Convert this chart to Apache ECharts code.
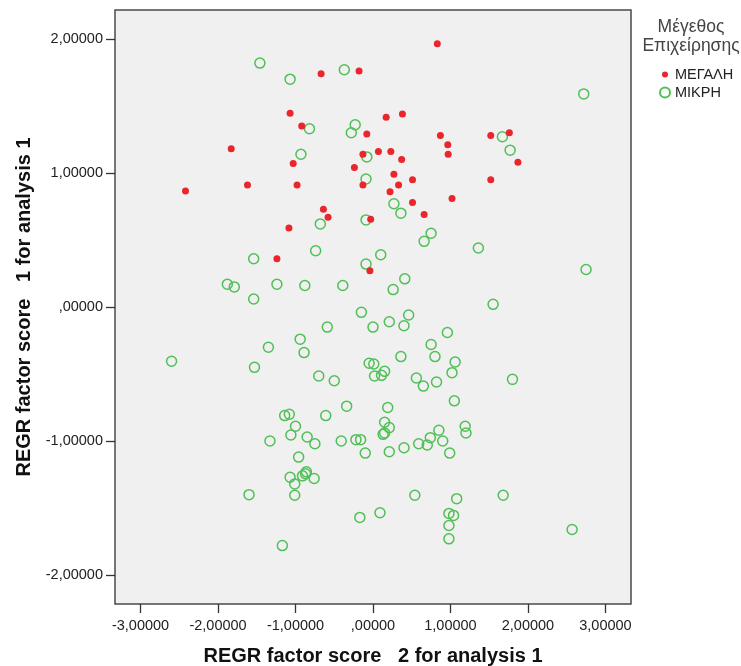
<!DOCTYPE html>
<html><head><meta charset="utf-8">
<script src="https://cdn.jsdelivr.net/npm/echarts@6/dist/echarts.min.js"></script>
<style>html,body{margin:0;padding:0;background:#fff}#c{width:741px;height:666px}</style>
</head><body><div id="c"></div>
<script>
var seriesNames = ['ΜΕΓΑΛΗ', 'ΜΙΚΡΗ'];
var legendTitle = 'Μέγεθος\nΕπιχείρησης';
var xAxisTitle = 'REGR factor score   2 for analysis 1';
var yAxisTitle = 'REGR factor score   1 for analysis 1';
var xTickValues = [-3, -2, -1, 0, 1, 2, 3];
var xTickLabels = ['-3,00000', '-2,00000', '-1,00000', ',00000', '1,00000', '2,00000', '3,00000'];
var yTickValues = [-2, -1, 0, 1, 2];
var yTickLabels = ['-2,00000', '-1,00000', ',00000', '1,00000', '2,00000'];

var megali = [
  [0.83,1.965],[-0.18,1.76],[-0.67,1.74],[-1.07,1.445],[0.17,1.415],[0.38,1.44],
  [-0.92,1.35],[-0.08,1.29],[0.87,1.28],[1.52,1.28],[1.76,1.30],[0.965,1.21],
  [0.97,1.14],[1.87,1.08],[-1.83,1.18],[0.07,1.16],[0.23,1.16],[-0.13,1.14],
  [0.37,1.10],[-1.03,1.07],[-0.24,1.04],[0.27,0.99],[0.51,0.95],[1.52,0.95],
  [0.33,0.91],[-1.62,0.91],[-0.98,0.91],[-0.13,0.91],[-2.42,0.866],[0.22,0.86],
  [1.02,0.81],[0.51,0.78],[0.66,0.69],[-0.64,0.73],[-0.58,0.67],[-0.03,0.655],
  [-1.085,0.59],[-1.24,0.36],[-0.04,0.27]
];
var mikri = [
  [-1.46,1.82],[-0.37,1.77],[-1.07,1.70],[-0.82,1.33],[-0.23,1.36],[-0.28,1.30],
  [-0.93,1.14],[-0.08,1.12],[-0.09,0.955],[2.72,1.59],[1.67,1.27],[1.77,1.17],
  [0.27,0.77],[0.36,0.70],[-0.68,0.62],[-0.09,0.65],[-0.74,0.42],[-1.54,0.36],
  [-0.09,0.32],[0.10,0.39],[-1.88,0.17],[-1.79,0.15],[-1.24,0.17],[-0.88,0.16],
  [-0.39,0.16],[-1.54,0.06],[-0.15,-0.04],[-0.59,-0.15],[0.00,-0.15],[-0.94,-0.24],
  [-1.35,-0.30],[-0.89,-0.34],[-2.60,-0.405],[-1.53,-0.45],[-0.05,-0.42],[0.01,-0.425],
  [0.02,-0.515],[-0.70,-0.515],[-0.50,-0.55],[-0.34,-0.74],
  [0.75,0.55],[0.66,0.49],[1.36,0.44],[2.75,0.28],[0.41,0.21],[0.26,0.13],
  [1.55,0.02],[0.46,-0.06],[0.21,-0.11],[0.40,-0.14],[0.96,-0.19],[0.75,-0.28],
  [0.80,-0.37],[0.36,-0.37],[1.06,-0.41],[0.15,-0.48],[0.11,-0.51],[1.02,-0.49],
  [0.56,-0.53],[0.65,-0.59],[0.82,-0.56],[1.80,-0.54],[1.05,-0.70],[0.19,-0.75],
  [-1.14,-0.81],[-1.08,-0.80],[-0.61,-0.81],[-1.00,-0.89],[-1.06,-0.955],[-1.33,-1.00],
  [-0.85,-0.97],[-0.75,-1.02],[-0.41,-1.00],[-0.22,-0.99],[-0.16,-0.99],[-0.10,-1.09],
  [-0.96,-1.12],[-1.07,-1.27],[-0.86,-1.23],[-0.87,-1.245],[-0.91,-1.26],[-0.76,-1.28],
  [-1.01,-1.32],[-1.01,-1.405],[-1.60,-1.40],[-0.17,-1.57],[-1.17,-1.78],
  [0.15,-0.86],[0.21,-0.90],[0.13,-0.95],[0.15,-0.94],[0.21,-1.08],[0.40,-1.05],
  [0.59,-1.02],[0.70,-1.03],[0.74,-0.975],[0.85,-0.92],[0.90,-1.00],[0.99,-1.09],
  [1.19,-0.89],[1.20,-0.94],[0.54,-1.405],[0.09,-1.535],[1.08,-1.43],[1.68,-1.405],
  [0.98,-1.54],[1.04,-1.555],[0.98,-1.63],[0.98,-1.73],[2.57,-1.66]
];

function fmt(values, labels) {
  return function (v) {
    for (var i = 0; i < values.length; i++) if (Math.abs(values[i] - v) < 1e-6) return labels[i];
    return '';
  };
}
var font = '"Liberation Sans", Arial, sans-serif';
var chart = echarts.init(document.getElementById('c'), null, {renderer: 'canvas'});
chart.setOption({
  animation: false,
  backgroundColor: '#ffffff',
  grid: {left: 115, right: 110, top: 10, bottom: 62, show: true, outerBoundsMode: 'none', containLabel: false,
         backgroundColor: '#f0f0f0', borderColor: '#4a4a4a', borderWidth: 1.5},
  xAxis: {
    type: 'value', min: -3.33, max: 3.33,
    name: xAxisTitle, nameLocation: 'middle', nameGap: 42,
    nameTextStyle: {fontFamily: font, fontWeight: 'bold', fontSize: 20, color: '#111'},
    axisLine: {show: false, onZero: false}, splitLine: {show: false},
    axisTick: {show: true, length: 9, customValues: xTickValues, lineStyle: {color: '#333', width: 1.3}},
    axisLabel: {customValues: xTickValues, formatter: fmt(xTickValues, xTickLabels), margin: 14,
                fontFamily: font, fontSize: 14.5, color: '#222'}
  },
  yAxis: {
    type: 'value', min: -2.216, max: 2.216,
    name: yAxisTitle, nameLocation: 'middle', nameGap: 79, nameRotate: 90,
    nameTextStyle: {fontFamily: font, fontWeight: 'bold', fontSize: 20, color: '#111'},
    axisLine: {show: false, onZero: false}, splitLine: {show: false},
    axisTick: {show: true, length: 9, customValues: yTickValues, lineStyle: {color: '#333', width: 1.3}},
    axisLabel: {customValues: yTickValues, formatter: fmt(yTickValues, yTickLabels), margin: 12,
                fontFamily: font, fontSize: 14.5, color: '#222'}
  },
  legend: {
    orient: 'vertical', left: 654, top: 62, itemGap: 3, itemWidth: 10, itemHeight: 10,
    textStyle: {fontFamily: font, fontSize: 14.5, color: '#222'},
    data: [
      {name: seriesNames[0], icon: 'path://M5,2A3,3 0 1,1 5,8A3,3 0 1,1 5,2ZM0,0L0,0ZM10,10L10,10Z'},
      {name: seriesNames[1], icon: 'circle'}
    ]
  },
  graphic: [{
    type: 'text', x: 691, y: 18,
    style: {text: legendTitle, textAlign: 'center', textVerticalAlign: 'top', fontFamily: font, fontSize: 17.5,
            lineHeight: 19, fill: '#444'}
  }],
  series: [
    {name: seriesNames[0], type: 'scatter', data: megali, symbol: 'circle', symbolSize: 7,
     itemStyle: {color: '#ea262c', opacity: 1}, z: 3},
    {name: seriesNames[1], type: 'scatter', data: mikri, symbol: 'circle', symbolSize: 10,
     itemStyle: {color: 'rgba(0,0,0,0)', borderColor: '#4fc055', borderWidth: 1.5, opacity: 1}, z: 2}
  ]
});
</script></body></html>
